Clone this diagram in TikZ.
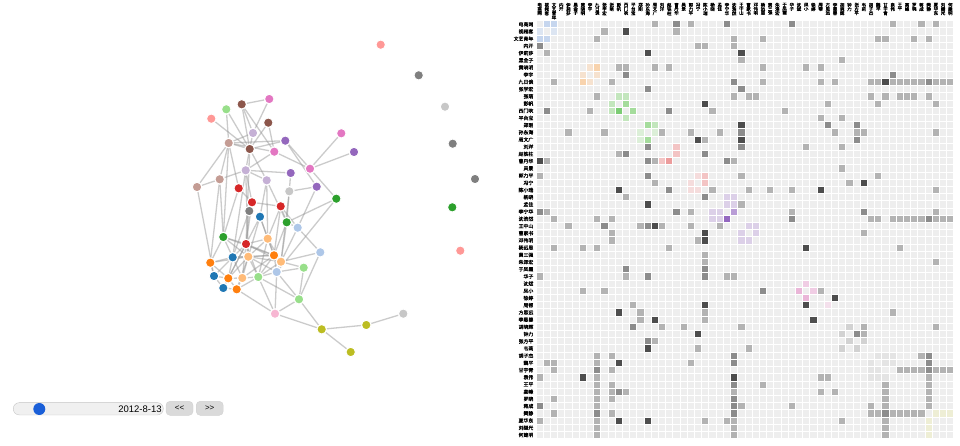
\documentclass[tikz,border=0pt]{standalone}
\usepackage{fontspec}
\setmainfont{Liberation Sans}
\newfontfamily\cjk{Noto Sans CJK SC}[FakeBold=1.2]
\usetikzlibrary{backgrounds}
% node colours (category20)
\definecolor{cblue}{HTML}{1F77B4}\definecolor{clblue}{HTML}{AEC7E8}
\definecolor{corange}{HTML}{FF7F0E}\definecolor{clorange}{HTML}{FFBB78}
\definecolor{cgreen}{HTML}{2CA02C}\definecolor{clgreen}{HTML}{98DF8A}
\definecolor{cred}{HTML}{D62728}\definecolor{csalmon}{HTML}{FF9896}
\definecolor{cpurple}{HTML}{9467BD}\definecolor{clpurple}{HTML}{C5B0D5}
\definecolor{cbrown}{HTML}{8C564B}\definecolor{ctan}{HTML}{C49C94}
\definecolor{cpink}{HTML}{E377C2}\definecolor{clpink}{HTML}{F7B6D2}
\definecolor{cgray}{HTML}{7F7F7F}\definecolor{clgray}{HTML}{C7C7C7}
\definecolor{colive}{HTML}{BCBD22}
% matrix colours
\definecolor{cellbg}{HTML}{EEEEEE}
\definecolor{gA}{HTML}{B3B3B3}\definecolor{gB}{HTML}{8C8C8C}\definecolor{gC}{HTML}{4D4D4D}
\definecolor{bA}{HTML}{C6D6EE}\definecolor{bB}{HTML}{DCE5F2}
\definecolor{oA}{HTML}{F8D3AD}\definecolor{oB}{HTML}{F6E2CF}
\definecolor{nA}{HTML}{C3E6BD}\definecolor{nB}{HTML}{A5DC9C}\definecolor{nC}{HTML}{7CCC74}\definecolor{nD}{HTML}{DCEFD8}
\definecolor{rA}{HTML}{F3C4C4}\definecolor{rB}{HTML}{EC9C9C}\definecolor{rC}{HTML}{F5DCDC}
\definecolor{pA}{HTML}{DCD0E8}\definecolor{pB}{HTML}{B99DD6}\definecolor{pC}{HTML}{9468C0}
\definecolor{kA}{HTML}{EAB6D8}\definecolor{kB}{HTML}{F0CDE4}\definecolor{kC}{HTML}{F4E0EC}
\definecolor{yA}{HTML}{D2D2D2}\definecolor{wA}{HTML}{E4E4E4}\definecolor{lA}{HTML}{EEEED5}
\definecolor{slbg}{HTML}{F0F0F0}\definecolor{slbd}{HTML}{C4C4C4}
\definecolor{knob}{HTML}{1A5FD8}\definecolor{btn}{HTML}{DADADA}
\def\vstk#1{\vbox{\offinterlineskip\vstkaux#1\relax}}
\def\vstkaux#1{\ifx\relax#1\else\hbox{#1}\kern0.1pt\expandafter\vstkaux\fi}
\tikzset{
  gnode/.style={circle, inner sep=0pt, minimum size=9.5pt, draw=white, line width=1pt},
  edge/.style={draw=black!40, draw opacity=0.5, line width=1.3pt},
  btnbox/.style={fill=btn, draw=black!18, rounded corners=4pt, minimum width=27pt, minimum height=14pt, inner sep=0pt, font=\fontsize{8}{8}\selectfont},
  rowlab/.style={anchor=east, inner sep=0pt, font=\cjk\fontsize{4.9}{4.9}\selectfont},
  collab/.style={anchor=north, inner sep=0pt, font=\cjk\fontsize{4.5}{4.5}\selectfont}
}
\begin{document}
\begin{tikzpicture}[x=1pt,y=-1pt]
\useasboundingbox (0,0) rectangle (960,446);
% ---------------- graph nodes
\foreach \n/\x/\y/\k in {
brA/241.7/104.3/cbrown, pkA/269.3/99/cpink, lgA/226.3/109.3/clgreen, saA/211.3/118.7/csalmon,
brB/268.3/122.7/cbrown, lpA/253/133/clpurple, tnA/228.7/143/ctan, pkB/341.3/133.3/cpink,
puA/285.3/140.7/cpurple, brC/249.7/149/cbrown, pkC/274.3/151.7/cpink, puB/354/152/cpurple,
lpB/245.7/170.3/clpurple, pkD/310/168.7/cpink, puC/290.7/173/cpurple, tnB/219.7/179.3/ctan,
tnC/197/187/ctan, lpC/266.7/180.3/clpurple, rdA/238.7/188.3/cred, puD/316.7/186.7/cpurple,
lgyA/289.3/191.3/clgray, gnA/336.3/198.7/cgreen, rdB/252/202.3/cred, rdC/280.7/206.3/cred,
gyA/249.3/211/cgray, blA/260/216.7/cblue, gnB/286.7/222.3/cgreen, lbA/297.7/227.7/clblue,
gnC/223.3/237/cgreen, rdD/246/244/cred, loA/267.7/238.7/clorange, lbB/320.3/252.3/clblue,
blB/232.7/257.3/cblue, loB/248.3/256.7/clorange, orA/274/255.3/corange, orB/210.3/262.7/corange,
loC/281/261.7/clorange, lbC/276.7/272/clblue, lgB/303.7/267.7/clgreen, blC/214/276/cblue,
orC/228.3/278.3/corange, loD/242.3/278/clorange, lgC/258.3/277/clgreen, blD/223.3/288/cblue,
orD/236.7/289.3/corange, lgD/299/299.3/clgreen, lpk/275/313.7/clpink, olA/321.7/329.3/colive,
olB/366.3/325/colive, lgyB/403.3/313.7/clgray, olC/350.7/352/colive,
isA/380.7/44.7/csalmon, isB/418.7/75.3/cgray, isC/445/106.7/clgray, isD/452.7/143.7/cgray,
isE/475/179/cgray, isF/452.3/207.3/cgreen, isG/460.3/250.7/csalmon}
  \node[gnode, fill=\k] (\n) at (\x,\y) {};
% ---------------- graph edges
\begin{scope}[on background layer]
\fill[white] (0,0) rectangle (960,446);
\foreach \a/\b in {
brA/pkA, brA/brC, brA/lpA, brA/pkC, lgA/tnA, lgA/brC, saA/brC, pkA/lpA, brB/pkC, brB/brC,
tnA/puA, tnA/pkC, tnA/brC, tnA/tnC, tnA/rdA, tnA/tnB, tnA/lpA, lpA/brC, brC/lpB, brC/lpC,
brC/puA, puA/pkD, pkC/pkD, pkC/lpB, pkD/pkB, pkD/puB, pkD/gnA, puA/puD, lpB/tnB, lpB/puC,
lpB/lpC, lpB/rdB, tnC/tnB, tnC/blC, tnB/orB, puC/lgyA, puD/lgyA, puD/lbA, gnA/lbC, gnA/gnB,
lgyA/gnB, rdA/rdB, rdB/rdC, rdC/gnB, rdC/lbA, lpC/blA, lpC/gnB, gyA/rdD, blA/loA, blA/orA,
gnB/lbA, gnB/loC, lbA/lbB, lbB/loC, lbB/lgD,
gnC/rdD, gnC/blB, gnC/orB, gnC/loB, gnC/orA,
rdD/loA, rdD/blB, rdD/loB, rdD/orA, rdD/loC, rdD/orC, rdD/loD, rdD/lgC, rdD/blD,
loA/orA, loA/loB, loA/loC, loA/lgC, blB/loB, blB/orB, blB/orC, blB/blC, blB/loD, blB/orA,
loB/orA, loB/loC, loB/lbC, loB/orC, loB/loD, loB/lgC, loB/orD, orA/loC, orA/lbC, orA/lgC, orA/loD,
orB/blC, orB/orC, orB/loB, loC/lbC, loC/lgC, loC/lgB, blC/orC, blC/blD, orC/loD, orC/orD, orC/blD,
loD/lgC, loD/orD, lgC/lbC, lgC/orD, lgC/lpk, lgC/lgD, blD/orD, lbC/lgD, lbC/lpk, lbC/lgB,
lgB/lgD, lgD/lpk, lgD/olA, lpk/olA, lpk/orD, olA/olB, olA/olC, olB/lgyB,
tnB/gnC, brC/rdD, lpB/loB, lpC/loA, rdA/gnC, rdB/rdD, gyA/blB, blA/loB, blA/rdD, rdC/loA,
rdC/orA, gnB/orA, lbA/loC, lgyA/loC, tnA/gnC, lpB/blB}
  \draw[edge] (\a) -- (\b);
\end{scope}
% ---------------- slider and buttons
\node[draw=slbd, fill=slbg, rounded corners=6pt, minimum width=150pt, minimum height=12.3pt, inner sep=0pt] (track) at (88.3,408.8) {};
\node[circle, fill=knob, minimum size=12pt, inner sep=0pt] (knobc) at (39.3,409) {};
\node[anchor=east, inner sep=0pt, font=\fontsize{9.5}{9.5}\selectfont] (date) at (161.8,409.3) {2012-8-13};
\node[btnbox] (prev) at (179.5,408.3) {{<}{<}};
\node[btnbox] (next) at (209.7,408.3) {{>}{>}};
% ---------------- matrix
\def\mx{536}\def\my{20.7}\def\cs{7.205}
\fill[cellbg] (\mx,\my) rectangle ++(58*\cs,58*\cs);
\foreach \r/\c/\k in {
0/1/bA,0/2/bA,0/16/gA,0/19/gB,0/21/gA,0/26/gB,0/35/gB,0/49/gA,0/53/gA,0/55/gA,
1/0/bB,1/2/bB,1/9/gA,1/12/gC,1/19/gA,
2/0/bA,2/1/bA,2/8/gA,2/27/gA,2/31/gA,2/47/gA,2/48/gA,2/52/gA,2/54/gA,
3/0/gB,3/22/gA,3/23/gA,3/27/gA,
4/1/gA,4/15/gC,4/28/gC,
5/28/gA,5/42/gA,
6/7/oB,6/8/oA,6/11/gA,6/12/gA,6/16/gA,6/18/gA,6/31/gA,6/37/gA,6/39/gA,
7/6/oB,7/8/oB,7/12/gB,7/49/gB,
8/2/gA,8/6/oA,8/7/oB,8/10/gA,8/27/gB,8/31/gA,8/39/gA,8/41/gA,8/46/gA,8/47/gA,8/48/gC,8/49/gA,8/50/gA,8/51/gA,8/52/gA,8/53/gA,8/54/gB,8/55/gA,8/56/gA,8/57/gA,
9/15/gB,9/28/gB,
10/8/gA,10/11/nA,10/12/nA,10/27/gA,10/29/gA,10/30/gA,10/46/gA,10/48/gA,10/50/gA,10/51/gA,10/52/gA,10/54/gA,
11/10/nA,11/12/nB,11/23/gC,11/40/gA,11/47/gA,11/55/gA,
12/1/gB,12/7/gA,12/10/nA,12/11/nC,12/13/nB,12/18/gB,12/24/gA,12/34/gA,
13/12/nA,13/39/gA,13/42/gA,
14/15/nB,14/16/nA,14/28/gC,14/40/gB,14/44/gB,
15/4/gA,15/9/gA,15/14/nD,15/16/nD,15/17/gA,15/21/gA,15/25/gA,15/28/gB,15/41/gA,15/44/gA,15/45/gA,15/55/gA,
16/14/nD,16/15/nB,16/22/gC,16/23/gA,16/28/gC,16/44/gB,
17/15/gB,17/19/rA,17/28/gB,17/37/gA,17/42/gA,
18/11/gA,18/12/gB,18/19/rA,18/23/gB,
19/0/gC,19/1/gA,19/15/gB,19/16/gA,19/17/rA,19/18/rB,19/26/gB,19/27/gA,
20/42/gA,
21/0/gA,21/15/gB,21/22/rC,21/23/rA,21/28/gA,21/47/gA,
22/16/gA,22/21/rC,22/23/rA,22/43/gA,22/45/gC,
23/11/gC,23/18/gB,23/21/rC,23/22/rC,23/24/gA,23/29/gA,23/32/gA,23/35/gA,23/39/gC,23/55/gA,
24/12/gA,24/23/gB,24/26/pA,24/27/pA,
25/15/gC,25/26/pA,25/27/pA,25/28/gA,
26/0/gB,26/1/gA,26/19/gB,26/21/gA,26/24/pA,26/25/pA,26/27/pB,26/35/gA,26/45/gB,26/55/gA,
27/2/gA,27/8/gA,27/10/gA,27/24/pA,27/25/pA,27/26/pC,27/35/gB,27/46/gA,27/47/gA,27/49/gA,27/50/gA,27/51/gA,27/52/gA,27/53/gA,27/54/gB,27/55/gA,27/56/gA,27/57/gA,
28/4/gA,28/9/gB,28/14/gA,28/15/gB,28/16/gC,28/17/gA,28/21/gA,28/25/gA,28/29/pA,28/30/pA,
29/10/gA,29/23/gC,29/28/pA,29/30/pA,29/45/gA,
30/10/gA,30/22/gA,30/23/gC,30/28/pA,30/29/pA,
31/2/gA,31/6/gA,31/8/gA,31/18/gA,31/37/gC,31/50/gA,
32/23/gA,33/23/gA,33/55/gA,34/12/gB,34/23/gB,
35/0/gA,35/12/gA,35/15/gB,35/23/gB,35/26/gA,35/27/gA,
36/37/kB,
37/6/gA,37/9/gA,37/31/gB,37/36/kA,37/38/kB,37/39/gA,
38/37/kA,38/41/gC,
39/13/gA,39/23/gC,39/37/gC,39/40/kC,
40/11/gC,40/14/gA,40/23/gA,40/49/gA,
41/14/gA,41/16/gC,41/23/gA,41/38/gC,
42/13/gB,42/17/gA,42/20/gA,42/28/gA,42/43/yA,42/45/gA,42/55/gA,
43/22/gC,43/42/yA,43/44/gB,43/45/gA,
44/15/gB,44/16/gA,44/43/yA,44/45/yA,
45/15/gC,45/22/gA,45/29/gA,45/42/yA,45/44/yA,
46/8/gA,46/10/gA,46/27/gB,46/47/wA,46/48/wA,46/49/wA,46/53/gA,46/54/gB,
47/1/gA,47/2/gA,47/8/gA,47/11/gC,47/21/gA,47/27/gB,47/46/wA,47/48/wA,47/49/wA,47/54/gB,
48/2/gA,48/8/gB,48/10/gA,48/46/wA,48/47/wA,48/50/gA,48/51/gA,48/52/gA,48/53/gA,48/54/gB,48/55/gA,48/56/gA,48/57/gA,
49/0/gA,49/6/gC,49/8/gA,49/27/gC,49/39/gA,49/40/gA,49/46/wA,49/47/wA,49/48/wA,49/54/gA,
50/8/gA,50/10/gA,50/27/gB,50/31/gA,50/48/gA,50/54/gA,
51/8/gA,51/10/gA,51/11/gB,51/12/gA,51/27/gA,51/39/gA,51/41/gA,51/48/gA,51/54/gA,
52/2/gA,52/8/gA,52/10/gA,52/27/gB,52/48/gA,52/54/gA,
53/0/gB,53/8/gA,53/27/gB,53/28/gA,53/35/gA,53/46/gA,53/48/gA,53/54/gA,
54/2/gA,54/8/gB,54/10/gA,54/27/gB,54/46/gA,54/47/gA,54/48/gB,54/49/gA,54/50/gA,54/51/gA,54/52/gA,54/53/gA,54/55/lA,54/56/lA,54/57/lA,
55/0/gA,55/8/gA,55/11/gC,55/15/gC,55/23/gA,55/26/gA,55/27/gA,55/42/gA,55/48/gA,55/54/lA,
56/8/gA,56/27/gA,56/48/gA,56/54/lA,
57/8/gA,57/27/gA,57/48/gA,57/54/lA}
  \fill[\k] (\mx+\c*\cs,\my+\r*\cs) rectangle ++(\cs,\cs);
\foreach \i in {0,...,58} {
  \draw[white, line width=0.9pt] (\mx+\i*\cs,\my) -- ++(0,58*\cs);
  \draw[white, line width=0.9pt] (\mx,\my+\i*\cs) -- ++(58*\cs,0);
}
% ---------------- labels
\foreach \nm [count=\i from 0] in {
电商网,视频客,文艺青年,内开,伊莉莎,黑金子,黄晓明,李宇,九日谈,张学宏,张萌,彭帆,西门吹,平台宝,
郑刚,孙东海,周文广,刘洋,赵铁柱,曹丹华,吴景,郭力平,冯宁,陈小瑞,杨晓,孟佳,李宁华,沈浩然,
王中山,曹家书,邓伟明,杨远思,黄三强,朱泽宏,于凤霞,华子,沈斌,凤小,徐婷,周帮,方思远,李恩善,
胡晓辉,钟力,张方平,韦莉,胡子杰,魏平,甘宇青,袁伟,王平,高峰,罗晓,蒋成,樊静,夏华东,刘继光,何建明}
{
  \node[rowlab] (r\i) at (533.5,\my+\i*\cs+3.6) {\nm};
  \node[collab] (c\i) at (\mx+\i*\cs+3.6,2.6) {\expandafter\vstk\expandafter{\nm}};
}
\end{tikzpicture}
\end{document}
